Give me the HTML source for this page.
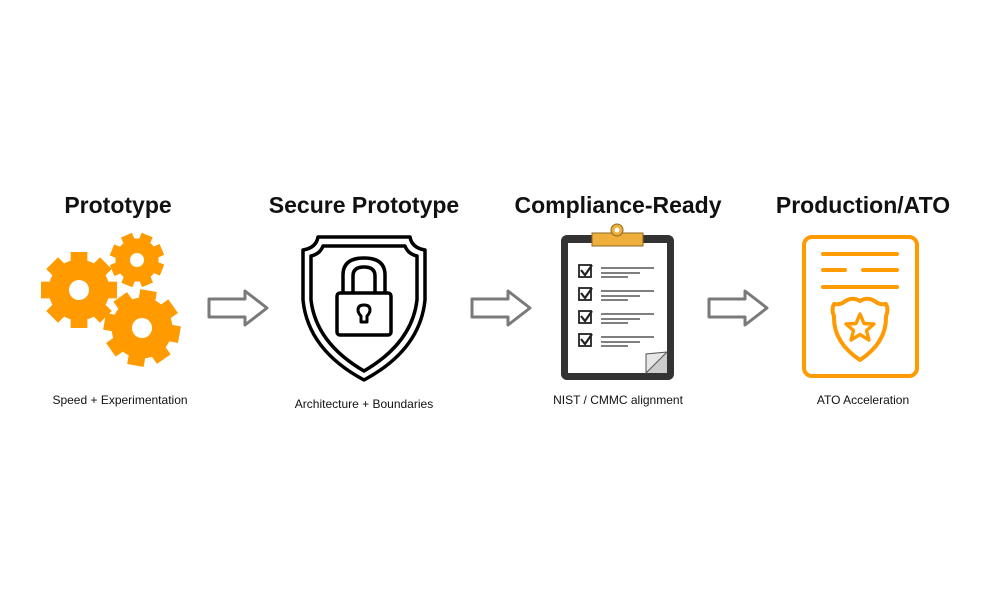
<!DOCTYPE html>
<html><head><meta charset="utf-8"><style>
html,body{margin:0;padding:0;background:#fff;}
svg{display:block;}
text{font-family:"Liberation Sans",Arial,sans-serif;}
</style></head><body>
<svg width="1000" height="600" viewBox="0 0 1000 600" xmlns="http://www.w3.org/2000/svg">
<defs>
<g id="gear">
<circle r="0.8" fill="#FF9A00"/>
<g fill="#FF9A00">
<rect x="-0.22" y="-1" width="0.44" height="2"/>
<rect x="-0.22" y="-1" width="0.44" height="2" transform="rotate(45)"/>
<rect x="-0.22" y="-1" width="0.44" height="2" transform="rotate(90)"/>
<rect x="-0.22" y="-1" width="0.44" height="2" transform="rotate(135)"/>
</g>
</g>
<path id="arrow" d="M0,-9 H36 V-17 L58,0 L36,17 V9 H0 Z" fill="#fff" stroke="#7a7a7a" stroke-width="3" stroke-linejoin="round"/>
</defs>

<g font-weight="bold" font-size="23" fill="#111" text-anchor="middle">
<text x="118" y="213">Prototype</text>
<text x="364" y="213">Secure Prototype</text>
<text x="618" y="213">Compliance-Ready</text>
<text x="863" y="213">Production/ATO</text>
</g>

<!-- gears -->
<g transform="translate(79,290) scale(38)"><use href="#gear"/></g>
<g transform="translate(137,260) scale(27) rotate(22)"><use href="#gear"/></g>
<g transform="translate(142,328) scale(38) rotate(10)"><use href="#gear"/></g>
<circle cx="79" cy="290" r="10" fill="#fff"/>
<circle cx="137" cy="260" r="7" fill="#fff"/>
<circle cx="142" cy="328" r="10" fill="#fff"/>

<use href="#arrow" transform="translate(209,308)"/>
<use href="#arrow" transform="translate(472,308)"/>
<use href="#arrow" transform="translate(709,308)"/>

<!-- shield -->
<g fill="none" stroke="#000" stroke-width="3.5" stroke-linejoin="round">
<path d="M318,237 H410 Q412,248 425,250 V300 Q420,350 364,380 Q308,350 303,300 V250 Q316,248 318,237 Z"/>
<path d="M323,246 H405 Q408,254 417,256 V300 Q412,343 364,371 Q316,343 311,300 V256 Q320,254 323,246 Z"/>
<path d="M343,293 V275 Q343,258 364,258 Q385,258 385,275 V293"/>
<path d="M353,293 V276 Q353,267 364,267 Q375,267 375,276 V293"/>
<rect x="337" y="293" width="54" height="42" rx="3"/>
<path d="M361,316 Q358,313 358,310 Q358,305 364,305 Q370,305 370,310 Q370,313 367,316 V322 H361 Z" stroke-width="3"/>
</g>

<!-- clipboard -->
<rect x="561" y="235" width="113" height="145" rx="6" fill="#333"/>
<rect x="568" y="243" width="99" height="130" fill="#fff"/>
<polygon points="646,373 667,352 667,373" fill="#ccc"/>
<polygon points="646,373 646,354 667,352" fill="#e6e6e6" stroke="#555" stroke-width="1"/>
<rect x="592" y="233" width="51" height="13" fill="#F0AF3C" stroke="#8a6a20" stroke-width="1"/>
<circle cx="617" cy="230" r="6" fill="#F0AF3C" stroke="#8a6a20" stroke-width="1"/>
<circle cx="617" cy="230" r="2.5" fill="#fff"/>
<g fill="none" stroke="#222" stroke-width="1.8">
<rect x="579" y="265" width="12" height="12"/><rect x="579" y="288" width="12" height="12"/>
<rect x="579" y="311" width="12" height="12"/><rect x="579" y="334" width="12" height="12"/>
<path d="M581,270 l4,5 l7,-10 M581,293 l4,5 l7,-10 M581,316 l4,5 l7,-10 M581,339 l4,5 l7,-10" stroke-width="2.2"/>
</g>
<g stroke="#333" stroke-width="1.3">
<path d="M601,268 H654 M601,273 H640 M601,277 H628"/>
<path d="M601,291 H654 M601,296 H640 M601,300 H628"/>
<path d="M601,314 H654 M601,319 H640 M601,323 H628"/>
<path d="M601,337 H654 M601,342 H640 M601,346 H628"/>
</g>

<!-- production doc -->
<g fill="none" stroke="#FF9A00" stroke-width="4" stroke-linecap="round" stroke-linejoin="round">
<rect x="804" y="237" width="113" height="139" rx="8"/>
<path d="M823,254 H897 M823,270 H845 M863,270 H897 M823,287 H897"/>
<path d="M844,302 Q852,296 860,301 Q868,296 876,302 Q880,305 886,304 Q889,310 886,316 Q887,342 860,360 Q833,342 834,316 Q831,310 834,304 Q840,305 844,302 Z"/>
<path d="M860,314 L864,323.5 L874,324 L866.5,330.5 L869,340 L860,334.5 L851,340 L853.5,330.5 L846,324 L856,323.5 Z" stroke-width="3.4"/>
</g>

<g font-size="12" fill="#111" text-anchor="middle">
<text x="120" y="404">Speed + Experimentation</text>
<text x="364" y="408">Architecture + Boundaries</text>
<text x="618" y="404">NIST / CMMC alignment</text>
<text x="863" y="404">ATO Acceleration</text>
</g>
</svg>
</body></html>
